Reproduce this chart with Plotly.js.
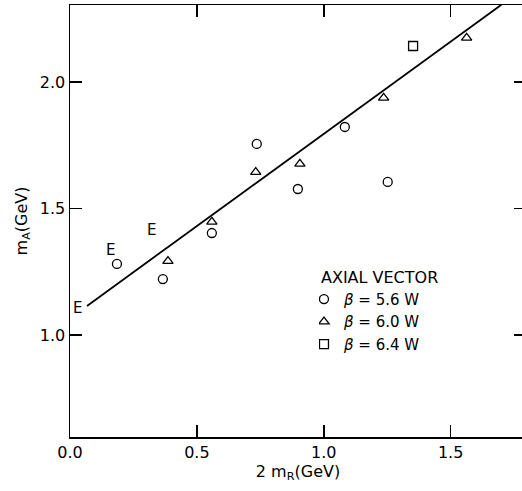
<!DOCTYPE html>
<html>
<head>
<meta charset="utf-8">
<script src="https://cdn.plot.ly/plotly-3.0.1.min.js"></script>
<style>
html, body { margin: 0; padding: 0; overflow: hidden; background: #fff; }
#chart { width: 528px; height: 491px; }
</style>
</head>
<body>
<div id="chart"></div>
<script>
// Data
const circleX = [0.185, 0.366, 0.559, 0.736, 0.898, 1.083, 1.252];
const circleY = [1.281, 1.221, 1.403, 1.755, 1.577, 1.822, 1.605];
const triangleX = [0.386, 0.559, 0.732, 0.906, 1.236, 1.563];
const triangleY = [1.292, 1.447, 1.644, 1.676, 1.937, 2.174];
const squareX = [1.352];
const squareY = [2.142];
const fitX = [0.067, 1.70];
const fitY = [1.115, 2.305];
const eX = [0.028, 0.161, 0.323];
const eY = [1.107, 1.336, 1.415];
const eText = ['E', 'E', 'E'];
const seriesNames = ['<i>β</i> = 5.6 W', '<i>β</i> = 6.0 W', '<i>β</i> = 6.4 W'];
const xTicks = [0.0, 0.5, 1.0, 1.5];
const xTickText = ['0.0', '0.5', '1.0', '1.5'];
const yTicks = [1.0, 1.5, 2.0];
const yTickText = ['1.0', '1.5', '2.0'];

const FONT = 'DejaVu Sans, Liberation Sans, sans-serif';
const mk = (sym) => ({ symbol: sym, size: 9, color: '#000', line: { color: '#000', width: 1.3 } });

const traces = [
  { x: fitX, y: fitY, mode: 'lines', line: { color: '#000', width: 1.8 }, showlegend: false, hoverinfo: 'skip' },
  { x: circleX, y: circleY, mode: 'markers', name: seriesNames[0], marker: mk('circle-open') },
  { x: triangleX, y: triangleY, mode: 'markers', name: seriesNames[1], marker: mk('triangle-up-open') },
  { x: squareX, y: squareY, mode: 'markers', name: seriesNames[2], marker: mk('square-open') }
];

const annotations = eX.map((x, i) => ({
  x: x, y: eY[i], xref: 'x', yref: 'y', text: eText[i], showarrow: false,
  font: { family: FONT, size: 15, color: '#000' }
}));

const axisCommon = {
  showline: true, linecolor: '#000', linewidth: 1.5, mirror: 'ticks',
  ticks: 'inside', ticklen: 12, tickwidth: 1.5, tickcolor: '#000',
  showgrid: false, zeroline: false, tickmode: 'array',
  tickfont: { family: FONT, size: 16, color: '#000' }
};

const layout = {
  width: 528, height: 491,
  margin: { l: 70, r: 2, t: 5, b: 54 },
  paper_bgcolor: '#fff', plot_bgcolor: '#fff',
  showlegend: true,
  legend: {
    x: 0.546, y: 0.405, xanchor: 'left', yanchor: 'top',
    bgcolor: 'rgba(0,0,0,0)', borderwidth: 0,
    font: { family: FONT, size: 15, color: '#000' },
    title: { text: 'AXIAL VECTOR', font: { family: FONT, size: 16, color: '#000' } },
    itemwidth: 30, tracegroupgap: 0, indentation: -15
  },
  xaxis: Object.assign({}, axisCommon, {
    range: [0, 1.797], tickvals: xTicks, ticktext: xTickText,
    title: { text: '2 m<sub>R</sub>(GeV)', font: { family: FONT, size: 16, color: '#000' }, standoff: 4 }
  }),
  yaxis: Object.assign({}, axisCommon, {
    range: [0.597, 2.304], tickvals: yTicks, ticktext: yTickText,
    title: { text: 'm<sub>A</sub>(GeV)', font: { family: FONT, size: 16, color: '#000' }, standoff: 8 }
  }),
  annotations: annotations
};

Plotly.newPlot('chart', traces, layout, { staticPlot: true, displayModeBar: false });
</script>
</body>
</html>
